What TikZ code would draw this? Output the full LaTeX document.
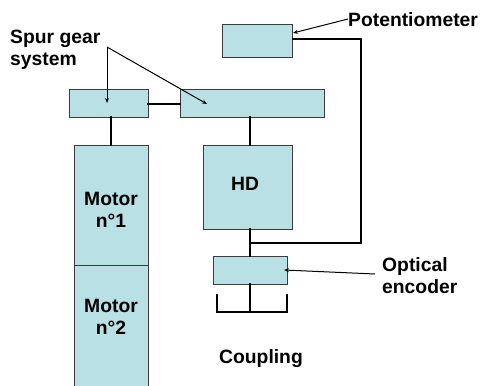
\documentclass[tikz,border=0pt]{standalone}
\usepackage{fontspec}
\setmainfont{Liberation Sans}
\usetikzlibrary{arrows.meta}
\definecolor{boxfill}{RGB}{185,224,228}
\definecolor{boxline}{RGB}{60,60,60}
\tikzset{
  blk/.style={draw=boxline, line width=0.9pt, fill=boxfill, inner sep=0pt, minimum width=#1},
  wire/.style={line width=2pt, line cap=rect},
  ptr/.style={line width=1pt, -{Stealth[length=5pt,width=4pt]}},
  lbl/.style={font=\bfseries\fontsize{19.3}{22.5}\selectfont, inner sep=0pt, align=#1},
  lbl/.default=center
}
\begin{document}
\begin{tikzpicture}[x=1pt,y=-1pt]
\useasboundingbox (0,0) rectangle (481,385);
% boxes
\node[blk=70pt, minimum height=33pt] (pot) at (257,40.5) {};
\node[blk=79pt, minimum height=28pt] (gearL) at (108.5,103) {};
\node[blk=144pt, minimum height=28pt] (gearR) at (252,103) {};
\node[blk=74pt, minimum height=120pt] (m1) at (111,205) {};
\node[blk=74pt, minimum height=125pt] (m2) at (111,327.5) {};
\node[blk=89pt, minimum height=84pt] (hd) at (247.5,187) {};
\node[blk=74pt, minimum height=28pt] (enc) at (250,270) {};
% texts
\node[lbl] (t1) at (111,210) {Motor\\n°1};
\node[lbl] (t2) at (111,317) {Motor\\n°2};
\node[lbl] (thd) at (245,184) {HD};
\node[lbl=left, anchor=west] (tpot) at (348,20) {Potentiometer};
\node[lbl=left, anchor=west] (tspur) at (10,50) {Spur gear\\system};
\node[lbl=left, anchor=west] (topt) at (382,275.5) {Optical\\encoder};
\node[lbl] (tcoup) at (261,359) {Coupling};
% coordinates
\coordinate (sp) at (107,47);
\coordinate (potA) at (348,19);
\coordinate (optA) at (375,274);
\coordinate (pr) at (361,39);
\coordinate (pj) at (250,243);
\coordinate (cj) at (250,312);
\coordinate (cl) at (217,312);
\coordinate (cr) at (287,312);
% wires
\draw[wire] (gearL.east |- 0,104) -- (gearR.west |- 0,104);
\draw[wire] (m1.north) -- (m1.north |- gearL.south);
\draw[wire] (hd.north -| 250,0) -- (gearR.south -| 250,0);
\draw[wire] (hd.south -| 250,0) -- (enc.north);
\draw[wire, line cap=butt] (pot.east |- pr) -- (pr) -- (pr |- pj) -- (pj);
\draw[wire] (enc.south) -- (cj);
\draw[wire, line cap=butt] ([yshift=18pt]cl) -- (cl) -- (cr) -- ([yshift=18pt]cr);
% pointers
\draw[ptr] (potA) -- (293,33);
\draw[ptr] (sp) -- (107,103);
\draw[ptr] (sp) -- (207,104);
\draw[ptr] (optA) -- (284,270);
\end{tikzpicture}
\end{document}
